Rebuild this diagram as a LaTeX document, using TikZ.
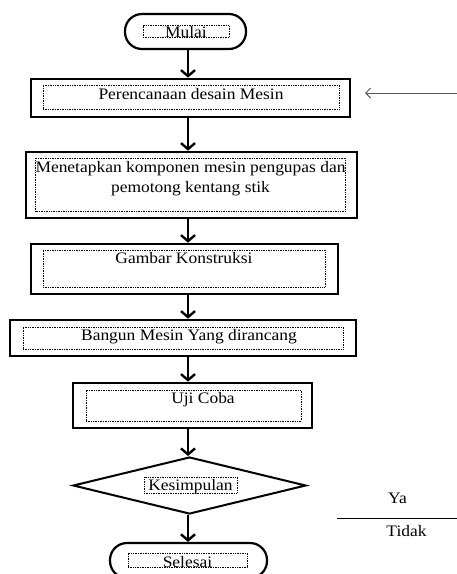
\documentclass[tikz,border=0pt]{standalone}
\usepackage{fontspec}
\setmainfont[FakeStretch=1.09]{Liberation Serif}
\usetikzlibrary{arrows.meta,shapes.geometric}

\tikzset{
  txt/.style={font=\fontsize{16}{20}\selectfont},
  box/.style={draw, line width=2.6pt, inner sep=0pt},
  term/.style={draw, line width=2.2pt, rounded corners=17pt, inner sep=0pt},
  dec/.style={draw, diamond, line width=2pt, inner sep=0pt},
  inbox/.style={draw, densely dotted, line width=0.7pt, inner sep=0pt, txt, align=center},
  flow/.style={line width=2.4pt, -{Straight Barb[length=6pt,width=14pt]}},
  back/.style={line width=1pt, draw=black!65, -{Straight Barb[length=5pt,width=10pt]}},
}

\begin{document}
\begin{tikzpicture}[x=1pt,y=-1pt]
\useasboundingbox (0,0) rectangle (457,574);

% kotak-kotak alur
\node[term, minimum width=121pt, minimum height=35pt] (mulai) at (185.5,31.5) {};
\node[inbox, minimum width=86pt, minimum height=11pt, text height=12pt, text depth=-1pt] (mulaiIn) at (186,31.5) {Mulai};

\node[box, minimum width=319pt, minimum height=38pt] (desain) at (190.5,98) {};
\node[inbox, minimum width=296pt, minimum height=24pt, text height=14pt, text depth=10pt] (desainIn) at (191,97) {Perencanaan desain Mesin};

\node[box, minimum width=331pt, minimum height=66pt] (komponen) at (191.5,185) {};
\node[inbox, minimum width=307pt, minimum height=53pt, text height=34pt, text depth=19pt] (komponenIn) at (190.5,184.5) {Menetapkan komponen mesin pengupas dan\\pemotong kentang stik};

\node[box, minimum width=307pt, minimum height=50pt] (gambar) at (184.5,269) {};
\node[inbox, minimum width=282pt, minimum height=37pt, text height=13pt, text depth=24pt] (gambarIn) at (184,268.5) {Gambar Konstruksi};

\node[box, minimum width=346pt, minimum height=36pt] (bangun) at (183,338) {};
\node[inbox, minimum width=320pt, minimum height=22pt, text height=13pt, text depth=9pt] (bangunIn) at (183,338) {\hspace*{12pt}Bangun Mesin Yang dirancang};

\node[box, minimum width=239pt, minimum height=45pt] (uji) at (192.5,405.5) {};
\node[inbox, minimum width=215pt, minimum height=31pt, text height=13pt, text depth=18pt] (ujiIn) at (193.5,405.5) {\hspace*{19pt}Uji Coba};

\node[dec, minimum width=233pt, minimum height=57pt] (kesimpulan) at (189.5,485.5) {};
\node[inbox, minimum width=93pt, minimum height=16pt, text height=13pt, text depth=3pt] (kesimpulanIn) at (190.5,485) {Kesimpulan};

\node[term, minimum width=157pt, minimum height=35pt] (selesai) at (188.5,560.5) {};
\node[inbox, minimum width=119pt, minimum height=14pt, text height=14pt, text depth=0pt] (selesaiIn) at (187.5,560) {Selesai};

% panah
\coordinate (spine) at (188,0);
\draw[flow] (spine |- mulai.south) -- (spine |- desain.north);
\draw[flow] (spine |- desain.south) -- (spine |- komponen.north);
\draw[flow] (spine |- komponen.south) -- (spine |- gambar.north);
\draw[flow] (spine |- gambar.south) -- (spine |- bangun.north);
\draw[flow] (spine |- bangun.south) -- (spine |- uji.north);
\draw[flow] (spine |- uji.south) -- (spine |- kesimpulan.north);
\draw[flow] (spine |- kesimpulan.south) -- (spine |- selesai.north);

\coordinate (masuk) at (457,93);
\coordinate (balik) at (365,93);
\draw[back] (masuk) -- (balik);

% keterangan
\coordinate (garisA) at (337,518);
\coordinate (garisB) at (457,518);
\draw[line width=1pt] (garisA) -- (garisB);
\node[txt, anchor=base, inner sep=0pt] (ya) at (397.5,503.5) {Ya};
\node[txt, anchor=base, inner sep=0pt] (tidak) at (406.5,536) {Tidak};

\end{tikzpicture}
\end{document}
